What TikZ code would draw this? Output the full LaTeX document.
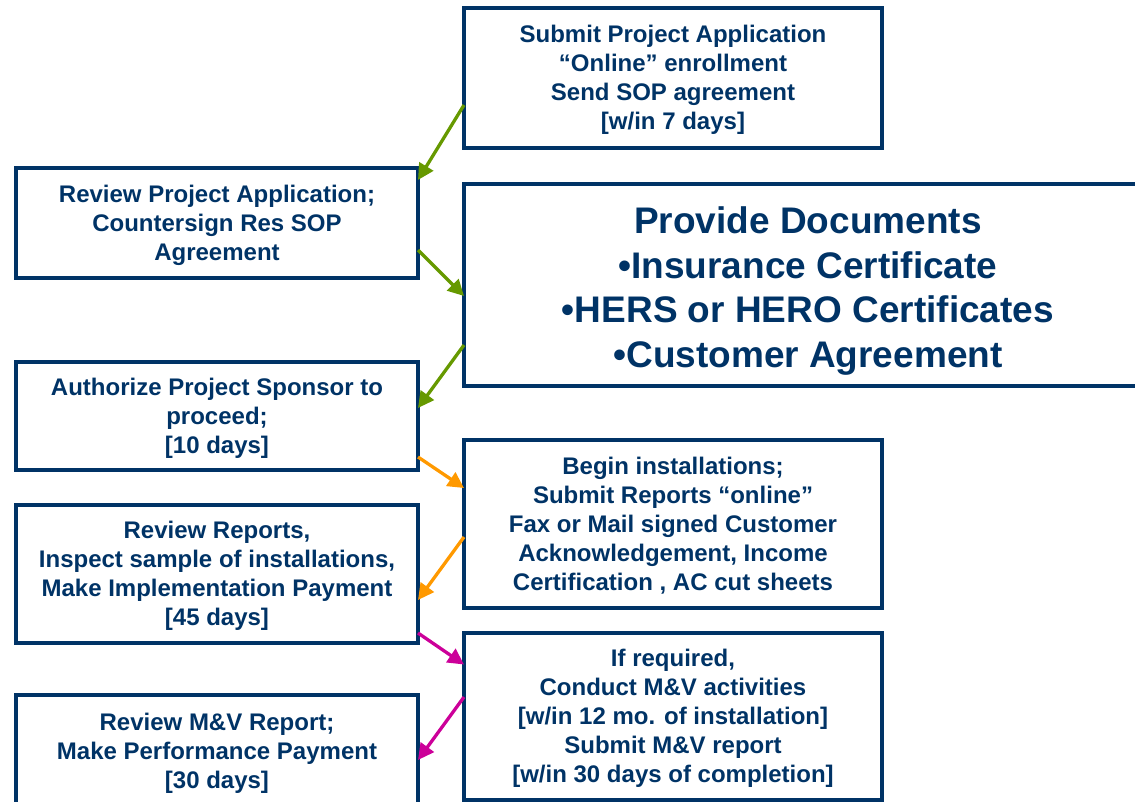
\documentclass[tikz,border=0pt]{standalone}
\usepackage{fontspec}
\setmainfont{Liberation Sans}
\usetikzlibrary{arrows.meta,calc}
\definecolor{navy}{RGB}{0,51,102}
\definecolor{agreen}{RGB}{102,153,0}
\definecolor{aorange}{RGB}{255,153,0}
\definecolor{amagenta}{RGB}{204,0,153}
\begin{document}
\begin{tikzpicture}[x=1pt,y=-1pt,
  box/.style={draw=navy,line width=4pt,inner sep=0pt,outer sep=0pt},
  txt/.style={text=navy,font=\fontsize{24}{29}\selectfont\bfseries,align=center,inner sep=0pt,yshift=-2pt},
  bigtxt/.style={txt,font=\fontsize{37}{44.5}\selectfont\bfseries,yshift=-4pt},
  conn/.style={line width=3.3pt,-{Triangle[length=16pt,width=16pt]}}]
\useasboundingbox (0,0) rectangle (1135,802);
\node[box,minimum width=418pt,minimum height=140pt] (A) at (673,78) {};
\node[txt] (At) at (A.center)
  {Submit Project Application\\“Online” enrollment\\Send SOP agreement\\{}[w/in 7 days]};
\node[box,minimum width=402pt,minimum height=110pt] (B) at (217,223) {};
\node[txt] (Bt) at (B.center)
  {Review Project Application;\\Countersign Res SOP\\Agreement};
\node[box,minimum width=688pt,minimum height=202pt] (C) at (808,285) {};
\node[bigtxt] (Ct) at (C.center)
  {Provide Documents\\•Insurance Certificate\\•HERS or HERO Certificates\\•Customer Agreement};
\node[box,minimum width=402pt,minimum height=108pt] (D) at (217,416) {};
\node[txt] (Dt) at (D.center)
  {Authorize Project Sponsor to\\proceed;\\{}[10 days]};
\node[box,minimum width=418pt,minimum height=168pt] (E) at (673,524) {};
\node[txt] (Et) at (E.center)
  {Begin installations;\\Submit Reports “online”\\Fax or Mail signed Customer\\Acknowledgement, Income\\Certification , AC cut sheets};
\node[box,minimum width=402pt,minimum height=138pt] (F) at (217,574) {};
\node[txt] (Ft) at (F.center)
  {Review Reports,\\Inspect sample of installations,\\Make Implementation Payment\\{}[45 days]};
\node[box,minimum width=418pt,minimum height=167pt] (G) at (673,716.5) {};
\node[txt] (Gt) at (G.center)
  {If required,\\Conduct M\&V activities\\{}[w/in 12 mo. of installation]\\Submit M\&V report\\{}[w/in 30 days of completion]};
\node[box,minimum width=402pt,minimum height=112pt] (H) at (217,751) {};
\node[txt] (Ht) at (H.center)
  {Review M\&V Report;\\Make Performance Payment\\{}[30 days]};
\draw[conn,agreen] ($(A.west)+(0,27)$) -- ($(B.north east)+(0,12)$);
\draw[conn,agreen] ($(B.east)+(0,27)$) -- ($(C.west)+(0,11)$);
\draw[conn,agreen] ($(C.west)+(0,60)$) -- ($(D.east)+(0,-8)$);
\draw[conn,aorange] ($(D.east)+(0,41)$) -- ($(E.west)+(0,-36)$);
\draw[conn,aorange] ($(E.west)+(0,13)$) -- ($(F.east)+(0,26)$);
\draw[conn,amagenta] ($(F.east)+(0,59)$) -- ($(G.west)+(0,-52)$);
\draw[conn,amagenta] ($(G.west)+(0,-19.5)$) -- ($(H.east)+(0,9)$);
\end{tikzpicture}
\end{document}
